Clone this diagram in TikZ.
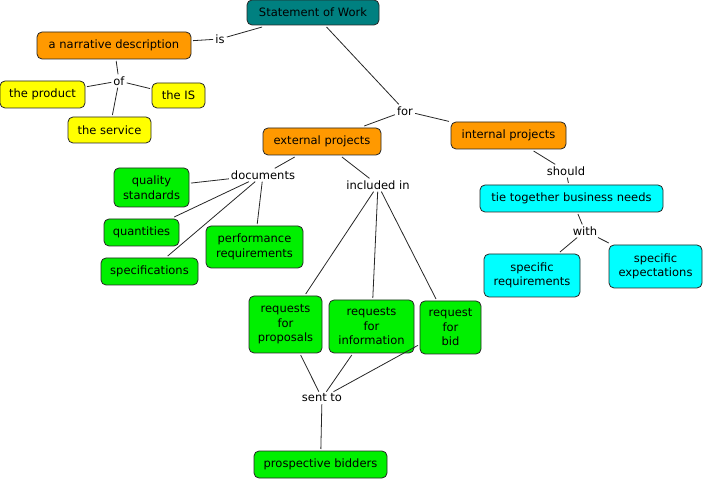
\documentclass[tikz,border=0pt]{standalone}
\usepackage{fontspec}
\setmainfont{DejaVu Sans}
\definecolor{cteal}{RGB}{0,128,128}
\definecolor{corange}{RGB}{255,153,0}
\definecolor{cyellow}{RGB}{255,255,0}
\definecolor{cgreen}{RGB}{0,240,0}
\definecolor{ccyan}{RGB}{0,255,255}
\begin{document}
\begin{tikzpicture}[x={(1pt,0pt)},y={(0pt,-1pt)},
  box/.style={draw=black!85, line width=0.8pt, rounded corners=5pt, inner sep=0pt, align=center,
    font=\fontsize{11.5}{14.5}\selectfont, outer sep=2pt},
  lbl/.style={inner sep=2pt, font=\fontsize{11.5}{14.5}\selectfont},
  conn/.style={draw=black!85, line width=0.8pt}]
\useasboundingbox (0,0) rectangle (705,481);
% nodes
\node[box, fill=cteal, minimum width=132pt, minimum height=25pt] (sow) at (313,12.5) {Statement of Work};
\node[box, fill=corange, minimum width=154pt, minimum height=27pt] (narr) at (114,45.5) {a narrative description};
\node[box, fill=cyellow, minimum width=85pt, minimum height=27pt] (prod) at (42.5,94.5) {the product};
\node[box, fill=cyellow, minimum width=53pt, minimum height=25pt] (is) at (178.5,95.5) {the IS};
\node[box, fill=cyellow, minimum width=83pt, minimum height=26pt] (serv) at (109.5,130) {the service};
\node[box, fill=corange, minimum width=118pt, minimum height=27pt] (ext) at (322,141.5) {external projects};
\node[box, fill=corange, minimum width=115pt, minimum height=27pt] (int) at (508.5,135.5) {internal projects};
\node[box, fill=ccyan, minimum width=183pt, minimum height=27pt] (tie) at (571.5,198.5) {tie together business needs};
\node[box, fill=ccyan, minimum width=96pt, minimum height=43pt] (sreq) at (532,275.5) {specific\\requirements};
\node[box, fill=ccyan, minimum width=93pt, minimum height=43pt] (sexp) at (655.5,266.5) {specific\\expectations};
\node[box, fill=cgreen, minimum width=75pt, minimum height=39pt] (qual) at (151.5,187.5) {quality\\standards};
\node[box, fill=cgreen, minimum width=75pt, minimum height=27pt] (quan) at (141.5,232.5) {quantities};
\node[box, fill=cgreen, minimum width=97pt, minimum height=27pt] (spec) at (149.5,271.5) {specifications};
\node[box, fill=cgreen, minimum width=97pt, minimum height=42pt] (perf) at (254.5,247) {performance\\requirements};
\node[box, fill=cgreen, minimum width=73pt, minimum height=57pt] (rfp) at (285.5,324.5) {requests\\for\\proposals};
\node[box, fill=cgreen, minimum width=85pt, minimum height=53pt] (rfi) at (371.5,326.5) {requests\\for\\information};
\node[box, fill=cgreen, minimum width=61pt, minimum height=53pt] (rfb) at (450.5,327.5) {request\\for\\bid};
\node[box, fill=cgreen, minimum width=133pt, minimum height=27pt] (bid) at (320.5,464.5) {prospective bidders};
% labels
\node[lbl] (lis) at (220,39) {is};
\node[lbl] (lof) at (119,81) {of};
\node[lbl] (lfor) at (405,111) {for};
\node[lbl] (lshould) at (566,171) {should};
\node[lbl] (lwith) at (585,231) {with};
\node[lbl] (ldoc) at (263,175) {documents};
\node[lbl] (linc) at (378,185) {included in};
\node[lbl] (lsent) at (322,398) {sent to};
% connectors
\draw[conn] (sow) -- (lis);
\draw[conn] (lis) -- (narr);
\draw[conn] (narr) -- (lof);
\draw[conn] (lof) -- (prod);
\draw[conn] (lof) -- (is);
\draw[conn] (lof) -- (serv);
\draw[conn] (sow) -- (lfor);
\draw[conn] (lfor) -- (ext);
\draw[conn] (lfor) -- (int);
\draw[conn] (int) -- (lshould);
\draw[conn] (lshould) -- (tie);
\draw[conn] (tie) -- (lwith);
\draw[conn] (lwith) -- (sreq);
\draw[conn] (lwith) -- (sexp);
\draw[conn] (ext) -- (ldoc);
\draw[conn] (ldoc) -- (qual);
\draw[conn] (ldoc) -- (quan);
\draw[conn] (ldoc) -- (spec);
\draw[conn] (ldoc) -- (perf);
\draw[conn] (ext) -- (linc);
\draw[conn] (linc) -- (rfp);
\draw[conn] (linc) -- (rfi);
\draw[conn] (linc) -- (rfb);
\draw[conn] (rfp) -- (lsent);
\draw[conn] (rfi) -- (lsent);
\draw[conn] (rfb) -- (lsent);
\draw[conn] (lsent) -- (bid);
\end{tikzpicture}
\end{document}
